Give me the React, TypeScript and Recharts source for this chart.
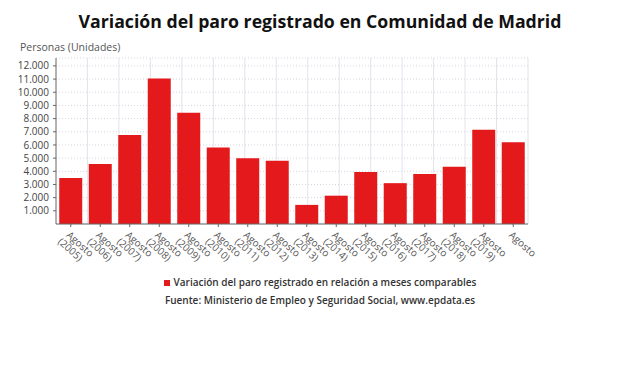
import React from "react";
import { BarChart, Bar, XAxis, YAxis, CartesianGrid } from "recharts";

const categories = [
  "Agosto (2005)", "Agosto (2006)", "Agosto (2007)", "Agosto (2008)",
  "Agosto (2009)", "Agosto (2010)", "Agosto (2011)", "Agosto (2012)",
  "Agosto (2013)", "Agosto (2014)", "Agosto (2015)", "Agosto (2016)",
  "Agosto (2017)", "Agosto (2018)", "Agosto (2019)", "Agosto",
];

const variacion = [
  3500, 4550, 6750, 11050, 8450, 5800, 5000, 4800,
  1450, 2150, 3950, 3100, 3800, 4350, 7150, 6200,
];

const yTicks = [1000, 2000, 3000, 4000, 5000, 6000, 7000, 8000, 9000, 10000, 11000, 12000];

const data = categories.map((name, i) => ({ name, value: variacion[i] }));

const FONT = "'Open Sans', 'Noto Sans', sans-serif";
const RED = "#e3191c";

const fmt = (v: number) => v.toLocaleString("de-DE");

const AgostoTick = (props: any) => {
  const { x, y, payload } = props;
  const parts = String(payload.value).split(" ");
  return (
    <g transform={`translate(${x - 5},${y + 7}) rotate(42)`}>
      <text x={0} y={0} fontSize={10} fill="#555" fontFamily={FONT} textAnchor="start">
        {parts.map((p: string, i: number) => (
          <tspan key={i} x={i === 0 ? 0 : -2} dy={i === 0 ? 0 : 10.5}>
            {p}
          </tspan>
        ))}
      </text>
    </g>
  );
};

const verticalLines = ({ offset }: any) => {
  const out: number[] = [];
  for (let i = 1; i <= 15; i++) out.push(offset.left + (i * offset.width) / 15);
  return out;
};

export default function App() {
  return (
    <div style={{ position: "absolute", left: 0, top: 0, width: 640, height: 376, background: "#fff", fontFamily: FONT }}>
      <div style={{ position: "absolute", top: 9, left: 0, width: 640, textAlign: "center", fontSize: 17.7, fontWeight: 700, color: "#111" }}>
        Variación del paro registrado en Comunidad de Madrid
      </div>
      <div style={{ position: "absolute", top: 40, left: 20, fontSize: 10.5, color: "#555" }}>
        Personas (Unidades)
      </div>
      <div style={{ position: "absolute", left: 0, top: 0 }}>
        <BarChart
          width={640}
          height={376}
          data={data}
          margin={{ top: 58, right: 112, bottom: 92, left: 0 }}
          barCategoryGap="11%"
        >
          <CartesianGrid vertical={false} stroke="#d6d3e0" strokeDasharray="1 2" />
          <CartesianGrid horizontal={false} stroke="#e4e2ec" verticalCoordinatesGenerator={verticalLines} />
          <XAxis
            dataKey="name"
            height={60}
            interval={0}
            tick={<AgostoTick />}
            tickSize={3}
            axisLine={{ stroke: "#666" }}
            tickLine={{ stroke: "#666" }}
          />
          <YAxis
            width={56}
            domain={[0, 12600]}
            ticks={yTicks}
            interval={0}
            tickFormatter={fmt}
            tickSize={3}
            tickMargin={4}
            tick={{ fontSize: 10, fill: "#444", fontFamily: FONT }}
            axisLine={{ stroke: "#666" }}
            tickLine={{ stroke: "#666" }}
          />
          <Bar dataKey="value" fill={RED} isAnimationActive={false} />
        </BarChart>
      </div>
      <div style={{ position: "absolute", top: 275, left: 0, width: 640, textAlign: "center", fontSize: 10, fontWeight: 600, color: "#333" }}>
        <span style={{ display: "inline-block", width: 6, height: 6, background: RED, marginRight: 4, verticalAlign: "middle" }} />
        Variación del paro registrado en relación a meses comparables
      </div>
      <div style={{ position: "absolute", top: 293, left: 0, width: 640, textAlign: "center", fontSize: 10, fontWeight: 600, color: "#333" }}>
        Fuente: Ministerio de Empleo y Seguridad Social, www.epdata.es
      </div>
    </div>
  );
}
